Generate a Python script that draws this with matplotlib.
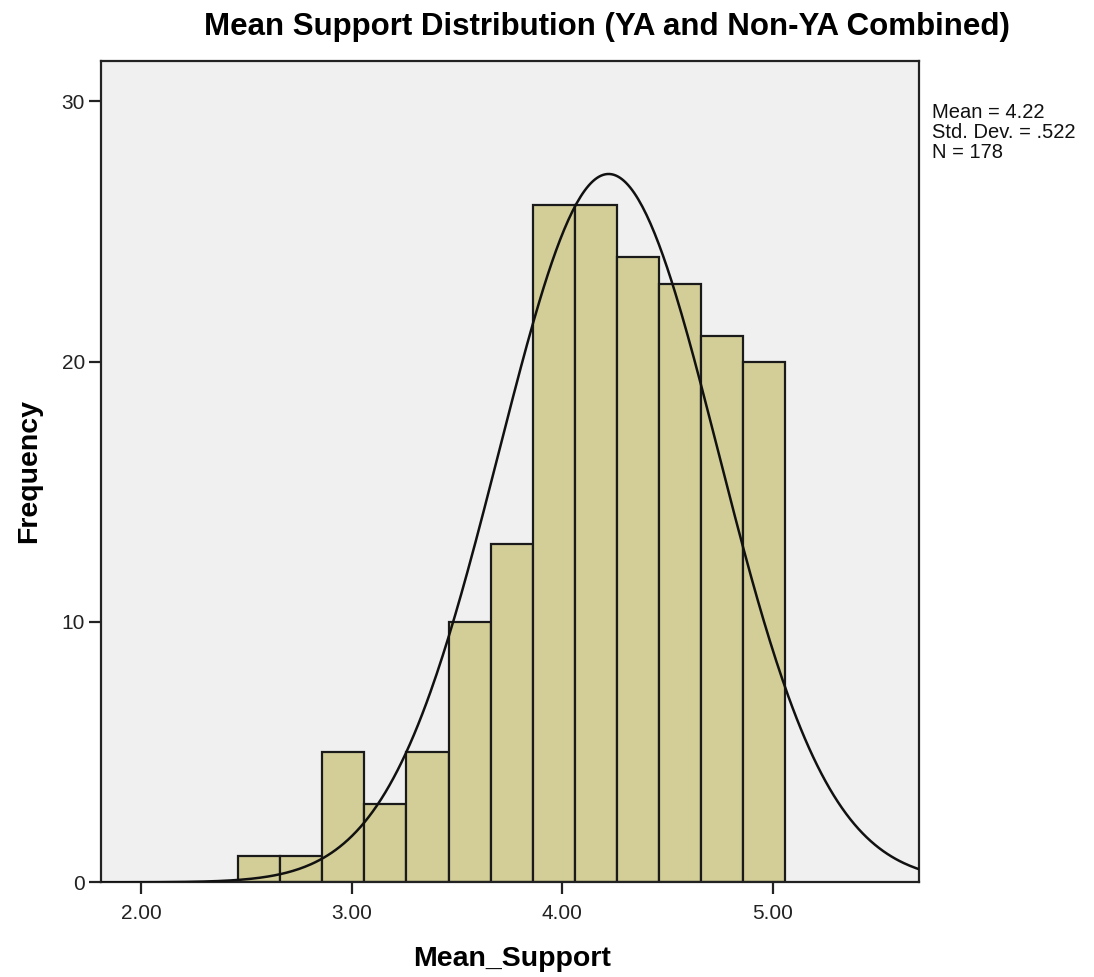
import numpy as np
import matplotlib.pyplot as plt

plt.rcParams['font.family'] = ['Liberation Sans', 'DejaVu Sans']

# histogram of Mean_Support, bins of width 0.2
bin_edges = [2.46, 2.66, 2.86, 3.06, 3.26, 3.46, 3.66, 3.86, 4.06, 4.26,
             4.46, 4.66, 4.86, 5.06]
counts = [1, 1, 5, 3, 5, 10, 13, 26, 26, 24, 23, 21, 20]
mean_val = 4.22
sd_val = 0.522
n_val = 178
x_ticks = [2.0, 3.0, 4.0, 5.0]
x_ticklabels = ['2.00', '3.00', '4.00', '5.00']
y_ticks = [0, 10, 20, 30]

W, H = 1094, 977
fig = plt.figure(figsize=(W / 100, H / 100), dpi=100)
ax = fig.add_axes([0.0923, 0.0969, 0.7477, 0.841])
ax.set_facecolor('#f0f0f0')

lefts = np.array(bin_edges[:-1])
widths = np.diff(bin_edges)
ax.bar(lefts, counts, width=widths, align='edge', color='#d3ce97',
       edgecolor='#1a1a1a', linewidth=1.6, zorder=2)

# normal curve scaled to the histogram
xs = np.linspace(1.8, 5.7, 400)
bw = widths.mean()
ys = n_val * bw / (sd_val * np.sqrt(2 * np.pi)) * np.exp(-0.5 * ((xs - mean_val) / sd_val) ** 2)
ax.plot(xs, ys, color='#111111', linewidth=1.8, zorder=3)

ax.set_xlim(1.809, 5.694)
ax.set_ylim(0, 31.56)
ax.set_xticks(x_ticks)
ax.set_xticklabels(x_ticklabels)
ax.set_yticks(y_ticks)
ax.tick_params(axis='both', direction='out', length=8.5, width=1.6,
               labelsize=15, colors='#222222')
ax.tick_params(axis='x', pad=7)
ax.tick_params(axis='y', pad=3)
for s in ax.spines.values():
    s.set_linewidth(1.6)
    s.set_color('#222222')

fig.text(607 / W, 1 - 35 / H, 'Mean Support Distribution (YA and Non-YA Combined)',
         ha='center', va='baseline', fontsize=22.5, fontweight='bold')
fig.text(512 / W, 1 - 966.5 / H, 'Mean_Support',
         ha='center', va='baseline', fontsize=20.5, fontweight='bold')
fig.text(29 / W, 1 - 471 / H, 'Frequency', rotation=90,
         ha='center', va='center', fontsize=20.5, fontweight='bold')

fig.text(932 / W, 1 - 103 / H,
         'Mean = %.2f\nStd. Dev. = .522\nN = %d' % (mean_val, n_val),
         ha='left', va='top', fontsize=14.5, linespacing=1.06, color='#111111')

fig.savefig('out.png', dpi=100)
